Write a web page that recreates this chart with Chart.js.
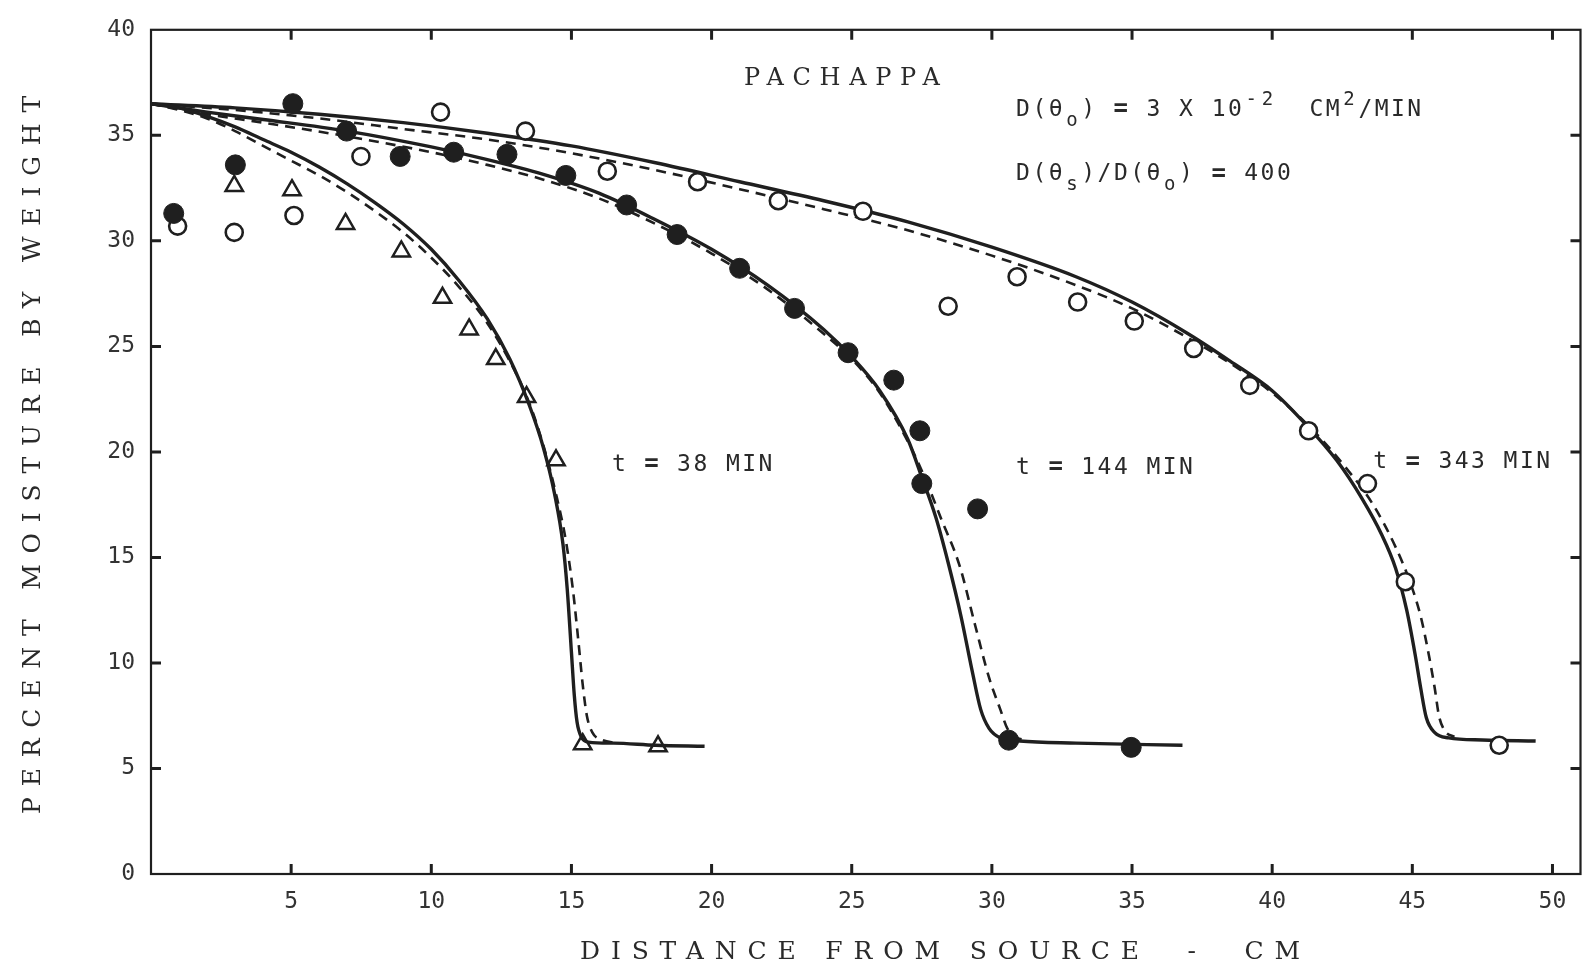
<!DOCTYPE html>
<html>
<head>
<meta charset="utf-8">
<script src="https://cdn.jsdelivr.net/npm/chart.js@4.4.0/dist/chart.umd.min.js"></script>
<style>
  html, body { margin: 0; padding: 0; background: #fff; }
  canvas { display: block; }
</style>
</head>
<body>
<canvas id="chMoisture" width="1593" height="971"></canvas>
<script>
/* Pachappa moisture profiles */

// axis ticks
var xTicks = [0, 5, 10, 15, 20, 25, 30, 35, 40, 45, 50];
var yTicks = [0, 5, 10, 15, 20, 25, 30, 35, 40];

// measured points, t = 38 min (triangles)
var tri38X = [2.97, 5.03, 6.94, 8.93, 10.4, 11.35, 12.3, 13.4, 14.45, 15.4, 18.09];
var tri38Y = [32.6, 32.4, 30.8, 29.5, 27.3, 25.8, 24.4, 22.6, 19.6, 6.15, 6.05];

// measured points, t = 144 min (filled circles)
var dot144X = [0.81, 3.01, 5.06, 6.98, 8.89, 10.8, 12.7, 14.8, 16.97, 18.77, 21.0, 22.96, 24.87, 26.5, 27.43, 27.5, 29.49, 30.6, 34.97];
var dot144Y = [31.3, 33.6, 36.5, 35.2, 34.0, 34.2, 34.1, 33.1, 31.7, 30.3, 28.7, 26.8, 24.7, 23.4, 21.0, 18.5, 17.3, 6.34, 6.0];

// measured points, t = 343 min (open circles)
var ring343X = [0.95, 2.97, 5.1, 7.49, 10.33, 13.36, 16.28, 19.5, 22.38, 25.4, 28.44, 30.9, 33.06, 35.08, 37.2, 39.2, 41.3, 43.4, 44.75, 48.1];
var ring343Y = [30.7, 30.4, 31.2, 34.0, 36.1, 35.2, 33.3, 32.8, 31.9, 31.4, 26.9, 28.3, 27.1, 26.2, 24.9, 23.15, 21.0, 18.5, 13.85, 6.1];

// computed curves (solid)
var sol38X = [0, 1, 2, 3, 4, 5, 6, 7, 8, 9, 10, 11, 12, 12.8, 13.5, 14.0, 14.4, 14.7, 14.85, 15.0, 15.1, 15.2, 15.35, 15.6, 16.5, 18, 19.75];
var sol38Y = [36.5, 36.3, 35.9, 35.4, 34.8, 34.2, 33.5, 32.7, 31.8, 30.8, 29.6, 28.1, 26.3, 24.4, 22.2, 20.2, 18.0, 15.6, 13.5, 10.5, 8.5, 7.2, 6.5, 6.25, 6.2, 6.1, 6.05];
var sol144X = [0, 2, 4, 7, 10, 12, 14, 16, 18, 20, 22, 24, 25, 26, 27, 27.5, 28.0, 28.45, 28.9, 29.3, 29.6, 29.9, 30.3, 31, 33, 36.8];
var sol144Y = [36.5, 36.1, 35.75, 35.2, 34.45, 33.85, 33.15, 32.25, 31.0, 29.6, 27.9, 25.8, 24.5, 22.9, 20.6, 18.8, 16.9, 14.7, 12.2, 9.6, 7.8, 6.9, 6.45, 6.3, 6.2, 6.1];
var sol343X = [0, 3, 6, 9, 12, 15, 18, 21, 24, 27, 30, 33, 35, 37, 38.5, 40, 41.2, 42.3, 43.2, 43.9, 44.4, 44.8, 45.1, 45.3, 45.5, 45.8, 46.3, 47.5, 49.4];
var sol343Y = [36.5, 36.3, 36.0, 35.6, 35.1, 34.5, 33.7, 32.8, 31.9, 30.9, 29.7, 28.3, 27.1, 25.6, 24.3, 22.9, 21.3, 19.6, 17.8, 16.1, 14.5, 12.5, 10.4, 8.8, 7.4, 6.7, 6.45, 6.35, 6.3];

// computed curves (dashed)
var dash38X = [0, 1, 2, 3, 4, 5, 6, 7, 8, 9, 10, 11, 12, 12.8, 13.5, 14.0, 14.45, 14.8, 15.05, 15.25, 15.4, 15.55, 15.75, 16.1, 16.6];
var dash38Y = [36.5, 36.2, 35.8, 35.2, 34.5, 33.8, 33.1, 32.3, 31.4, 30.4, 29.2, 27.8, 26.1, 24.3, 22.3, 20.3, 18.0, 15.8, 13.5, 11.0, 9.0, 7.5, 6.7, 6.35, 6.2];
var dash144X = [0, 2, 4, 7, 10, 12, 14, 16, 18, 20, 22, 24, 25, 26, 27, 27.6, 28.2, 28.85, 29.4, 29.9, 30.3, 30.55, 30.9, 31.3];
var dash144Y = [36.5, 36.0, 35.6, 34.95, 34.2, 33.6, 32.9, 32.0, 30.8, 29.4, 27.7, 25.6, 24.4, 22.8, 20.5, 18.8, 16.8, 14.6, 11.8, 9.3, 7.8, 6.9, 6.45, 6.35];
var dash343X = [0, 3, 6, 9, 12, 15, 18, 21, 24, 27, 30, 33, 35, 37, 38.5, 40, 41.4, 42.6, 43.6, 44.4, 44.9, 45.3, 45.6, 45.8, 45.95, 46.15, 46.5];
var dash343Y = [36.5, 36.2, 35.8, 35.3, 34.8, 34.15, 33.35, 32.45, 31.5, 30.5, 29.3, 27.9, 26.8, 25.4, 24.2, 22.8, 21.1, 19.3, 17.5, 15.5, 13.9, 12.2, 10.3, 8.8, 7.5, 6.8, 6.5];

var ink = '#1f1f1f';

function pts(xs, ys) {
    return xs.map(function (x, i) { return { x: x, y: ys[i] }; });
}

function curve(xs, ys, dashed) {
    return {
        type: 'line',
        data: pts(xs, ys),
        borderColor: ink,
        borderWidth: dashed ? 2.6 : 3.4,
        borderDash: dashed ? [10, 7] : [],
        pointRadius: 0,
        fill: false,
        cubicInterpolationMode: 'monotone',
        order: 2
    };
}

// text notes placed in data units
var notes = [
    { x: 16.4, y: 19.4, runs: [['t ', ''], ['=', 'b'], [' 38 MIN', '']] },
    { x: 30.82, y: 19.25, runs: [['t ', ''], ['=', 'b'], [' 144 MIN', '']] },
    { x: 43.56, y: 19.5, runs: [['t ', ''], ['=', 'b'], [' 343 MIN', '']] },
    { x: 30.82, y: 36.2, runs: [['D(θ', ''], ['o', 'sub'], [') ', ''], ['=', 'b'], [' 3 X 10', ''], ['-2', 'sup'], ['  CM', ''], ['2', 'sup'], ['/MIN', '']] },
    { x: 30.82, y: 33.15, runs: [['D(θ', ''], ['s', 'sub'], [')/D(θ', ''], ['o', 'sub'], [') ', ''], ['=', 'b'], [' 400', '']] }
];

function typewriter(ctx, runs, x, y) {
    var pitch = 16.3;
    var cx = x;
    ctx.textAlign = 'center';
    ctx.textBaseline = 'middle';
    runs.forEach(function (r) {
        var mode = r[1];
        var dy = 0;
        if (mode === 'sub') { ctx.font = '19px "DejaVu Sans Mono"'; dy = 11; }
        else if (mode === 'sup') { ctx.font = '19px "DejaVu Sans Mono"'; dy = -10; }
        else if (mode === 'b') { ctx.font = 'bold 24px "DejaVu Sans Mono"'; }
        else { ctx.font = '23px "DejaVu Sans Mono"'; }
        Array.from(r[0]).forEach(function (ch) {
            ctx.fillText(ch, cx + pitch / 2, y + dy);
            cx += pitch;
        });
    });
}

function spaced(ctx, text, cx, cy, width) {
    ctx.letterSpacing = '0px';
    var w = ctx.measureText(text).width;
    var n = Array.from(text).length;
    var sp = (width - w) / (n - 1);
    ctx.letterSpacing = sp + 'px';
    ctx.textAlign = 'left';
    ctx.textBaseline = 'middle';
    ctx.fillText(text, cx - width / 2, cy);
    ctx.letterSpacing = '0px';
}

var framePlugin = {
    id: 'frame',
    afterDraw: function (chart) {
        var ctx = chart.ctx, a = chart.chartArea;
        var sx = chart.scales.x, sy = chart.scales.y;
        ctx.save();
        ctx.strokeStyle = ink;
        ctx.lineWidth = 2.2;
        ctx.strokeRect(a.left, a.top, a.right - a.left, a.bottom - a.top);

        // inward ticks on all four sides
        ctx.lineWidth = 3;
        ctx.beginPath();
        xTicks.forEach(function (v) {
            if (v === 0) return;
            var px = sx.getPixelForValue(v);
            ctx.moveTo(px, a.bottom); ctx.lineTo(px, a.bottom - 10);
            ctx.moveTo(px, a.top); ctx.lineTo(px, a.top + 10);
        });
        yTicks.forEach(function (v) {
            if (v === 0 || v === 40) return;
            var py = sy.getPixelForValue(v);
            ctx.moveTo(a.left, py); ctx.lineTo(a.left + 10, py);
            ctx.moveTo(a.right, py); ctx.lineTo(a.right - 10, py);
        });
        ctx.stroke();

        // titles
        ctx.fillStyle = '#2a2a2a';
        ctx.font = '24px "DejaVu Serif"';
        spaced(ctx, 'PACHAPPA', sx.getPixelForValue(24.65), sy.getPixelForValue(37.7), 196);
        ctx.font = '25px "DejaVu Serif"';
        spaced(ctx, 'DISTANCE FROM SOURCE  -  CM', 940, 952, 720);
        ctx.save();
        ctx.translate(33, (a.top + a.bottom) / 2 + 3);
        ctx.rotate(-Math.PI / 2);
        spaced(ctx, 'PERCENT MOISTURE BY WEIGHT', 0, 0, 718);
        ctx.restore();

        // notes
        ctx.fillStyle = '#2a2a2a';
        notes.forEach(function (n) {
            typewriter(ctx, n.runs, sx.getPixelForValue(n.x), sy.getPixelForValue(n.y));
        });
        ctx.restore();
    }
};

var tickFont = { family: '"DejaVu Sans Mono"', size: 23 };

new Chart(document.getElementById('chMoisture'), {
    type: 'scatter',
    data: {
        datasets: [
            {
                data: pts(tri38X, tri38Y),
                pointStyle: 'triangle',
                pointRadius: 10,
                borderWidth: 2.5,
                borderColor: ink,
                backgroundColor: 'rgba(255,255,255,0)',
                order: 0
            },
            {
                data: pts(dot144X, dot144Y),
                pointStyle: 'circle',
                pointRadius: 10,
                borderWidth: 1,
                borderColor: ink,
                backgroundColor: ink,
                order: 0
            },
            {
                data: pts(ring343X, ring343Y),
                pointStyle: 'circle',
                pointRadius: 8.5,
                borderWidth: 2.6,
                borderColor: ink,
                backgroundColor: '#ffffff',
                order: 0
            },
            curve(sol38X, sol38Y, false),
            curve(dash38X, dash38Y, true),
            curve(sol144X, sol144Y, false),
            curve(dash144X, dash144Y, true),
            curve(sol343X, sol343Y, false),
            curve(dash343X, dash343Y, true)
        ]
    },
    options: {
        responsive: false,
        animation: false,
        layout: { padding: { top: 25, right: 5, left: 0, bottom: 0 } },
        plugins: { legend: { display: false }, tooltip: { enabled: false } },
        scales: {
            x: {
                type: 'linear',
                min: 0,
                max: 51,
                afterBuildTicks: function (axis) {
                    axis.ticks = xTicks.map(function (v) { return { value: v }; });
                },
                afterFit: function (axis) { axis.height = 97; },
                grid: { display: false, drawTicks: false },
                border: { display: false },
                ticks: {
                    padding: 14,
                    color: '#333',
                    font: tickFont,
                    maxRotation: 0,
                    callback: function (v) { return v === 0 ? '' : v; }
                }
            },
            y: {
                type: 'linear',
                min: 0,
                max: 40,
                afterBuildTicks: function (axis) {
                    axis.ticks = yTicks.map(function (v) { return { value: v }; });
                },
                afterFit: function (axis) { axis.width = 151; },
                grid: { display: false, drawTicks: false },
                border: { display: false },
                ticks: { padding: 16, color: '#333', font: tickFont }
            }
        }
    },
    plugins: [framePlugin]
});
</script>
</body>
</html>
